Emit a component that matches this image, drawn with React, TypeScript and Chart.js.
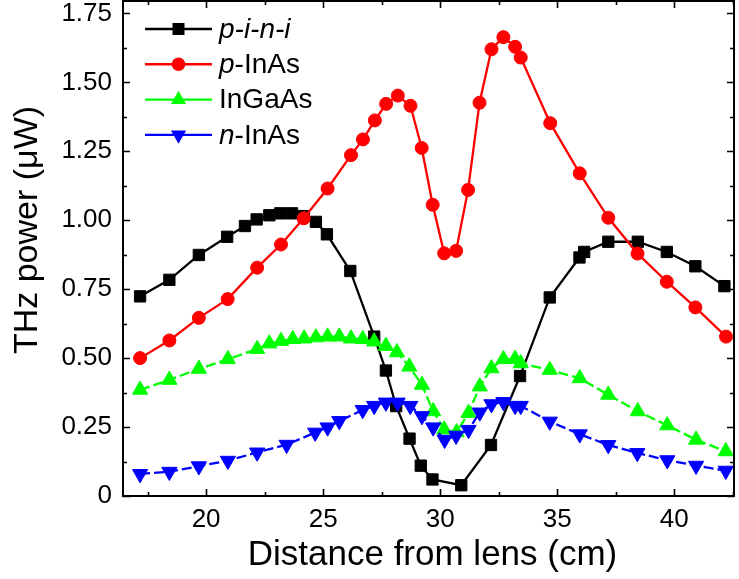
import React, { useEffect, useRef } from 'react';
import { Chart, registerables } from 'chart.js';

Chart.register(...registerables);

// ---------- data ----------
const piniX = [17.18, 18.43, 19.69, 20.9, 21.66, 22.16, 22.7, 23.17, 23.67, 24.17, 24.69, 25.16, 26.16, 27.18, 27.68, 28.12, 28.69, 29.17, 29.67, 30.9, 32.17, 33.41, 34.68, 35.95, 36.15, 37.18, 38.44, 39.68, 40.9, 42.14];
const piniY = [0.724, 0.784, 0.874, 0.94, 0.979, 1.003, 1.018, 1.025, 1.025, 1.015, 0.994, 0.949, 0.816, 0.578, 0.455, 0.326, 0.208, 0.11, 0.06, 0.039, 0.185, 0.435, 0.72, 0.865, 0.885, 0.922, 0.922, 0.885, 0.833, 0.761];

const pInAsX = [17.18, 18.43, 19.69, 20.92, 22.18, 23.2, 24.17, 25.19, 26.19, 26.7, 27.21, 27.69, 28.19, 28.73, 29.21, 29.68, 30.17, 30.68, 31.19, 31.68, 32.19, 32.7, 33.2, 33.44, 34.7, 35.96, 37.18, 38.43, 39.68, 40.9, 42.21];
const pInAsY = [0.5, 0.564, 0.646, 0.714, 0.828, 0.912, 1.007, 1.115, 1.236, 1.293, 1.362, 1.422, 1.452, 1.415, 1.262, 1.056, 0.88, 0.889, 1.11, 1.426, 1.62, 1.664, 1.629, 1.59, 1.352, 1.17, 1.009, 0.879, 0.777, 0.684, 0.578];

const inGaAsX = [17.18, 18.43, 19.69, 20.93, 22.18, 22.7, 23.2, 23.7, 24.19, 24.69, 25.19, 25.69, 26.19, 26.69, 27.18, 27.68, 28.15, 28.68, 29.22, 29.7, 30.17, 30.7, 31.21, 31.69, 32.19, 32.7, 33.2, 33.44, 34.68, 35.96, 37.18, 38.44, 39.7, 40.93, 42.2];
const inGaAsY = [0.385, 0.421, 0.461, 0.496, 0.533, 0.553, 0.562, 0.569, 0.571, 0.575, 0.578, 0.578, 0.571, 0.569, 0.56, 0.544, 0.521, 0.469, 0.403, 0.307, 0.241, 0.231, 0.301, 0.397, 0.463, 0.496, 0.497, 0.481, 0.457, 0.427, 0.367, 0.307, 0.256, 0.204, 0.162];

const nInAsX = [17.18, 18.43, 19.69, 20.93, 22.18, 23.44, 24.66, 25.19, 25.69, 26.69, 27.18, 27.68, 28.18, 28.72, 29.22, 29.7, 30.19, 30.68, 31.21, 31.69, 32.19, 32.7, 33.2, 33.44, 34.68, 35.96, 37.18, 38.42, 39.7, 40.93, 42.2];
const nInAsY = [0.08, 0.088, 0.108, 0.128, 0.158, 0.186, 0.23, 0.249, 0.272, 0.312, 0.327, 0.339, 0.339, 0.327, 0.29, 0.249, 0.204, 0.219, 0.24, 0.303, 0.333, 0.341, 0.327, 0.327, 0.27, 0.224, 0.185, 0.156, 0.13, 0.11, 0.092];

const xTickValues = [20, 25, 30, 35, 40];
const xTickLabels = ['20', '25', '30', '35', '40'];
const yTickValues = [0, 0.25, 0.5, 0.75, 1.0, 1.25, 1.5, 1.75];
const yTickLabels = ['0', '0.25', '0.50', '0.75', '1.00', '1.25', '1.50', '1.75'];

const xTitle = 'Distance from lens (cm)';
const yTitle = 'THz power (\u03BCW)';

// legend text segments: [text, italic]
const legendItems: { segs: [string, boolean][]; color: string; marker: string }[] = [
  { segs: [['p-i-n-i', true]], color: '#000000', marker: 'square' },
  { segs: [['p', true], ['-InAs', false]], color: '#ff0000', marker: 'circle' },
  { segs: [['InGaAs', false]], color: '#00ff00', marker: 'up' },
  { segs: [['n', true], ['-InAs', false]], color: '#0000ff', marker: 'down' },
];

const FONT = '"Liberation Sans", Arial, sans-serif';

function pts(xs: number[], ys: number[]) {
  return xs.map((x, i) => ({ x, y: ys[i] }));
}

function labelFor(values: number[], labels: string[], v: number) {
  const i = values.findIndex((t) => Math.abs(t - v) < 1e-6);
  return i >= 0 ? labels[i] : '';
}

function drawMarker(ctx: CanvasRenderingContext2D, kind: string, x: number, y: number, color: string) {
  ctx.fillStyle = color;
  ctx.beginPath();
  if (kind === 'square') {
    const s = 6;
    ctx.rect(x - s, y - s, 2 * s, 2 * s);
  } else if (kind === 'circle') {
    ctx.arc(x, y, 6.8, 0, Math.PI * 2);
  } else if (kind === 'up') {
    const r = 8.8;
    ctx.moveTo(x, y - r);
    ctx.lineTo(x + r * 0.866, y + r / 2);
    ctx.lineTo(x - r * 0.866, y + r / 2);
    ctx.closePath();
  } else {
    const r = 8.8;
    ctx.moveTo(x, y + r);
    ctx.lineTo(x + r * 0.866, y - r / 2);
    ctx.lineTo(x - r * 0.866, y - r / 2);
    ctx.closePath();
  }
  ctx.fill();
}

const framePlugin = {
  id: 'frame',
  afterDatasetsDraw(chart: any) {
    const { ctx, chartArea, scales } = chart;
    const { left, right, top, bottom } = chartArea;
    ctx.save();
    ctx.strokeStyle = '#000';
    ctx.lineWidth = 2;
    ctx.strokeRect(left, top, right - left, bottom - top);
    ctx.lineWidth = 1.6;
    ctx.beginPath();
    scales.x.ticks.forEach((t: any) => {
      const px = Math.round(scales.x.getPixelForValue(t.value)) + 0.5;
      const major = labelFor(xTickValues, xTickLabels, t.value) !== '';
      const len = major ? 7 : 4;
      ctx.moveTo(px, bottom);
      ctx.lineTo(px, bottom - len);
      ctx.moveTo(px, top);
      ctx.lineTo(px, top + len);
    });
    scales.y.ticks.forEach((t: any) => {
      const py = Math.round(scales.y.getPixelForValue(t.value)) + 0.5;
      const major = labelFor(yTickValues, yTickLabels, t.value) !== '';
      const len = major ? 7 : 4;
      ctx.moveTo(left, py);
      ctx.lineTo(left + len, py);
      ctx.moveTo(right, py);
      ctx.lineTo(right - len, py);
    });
    ctx.stroke();

    // legend
    const rowY0 = top + 28;
    const rowH = 35.3;
    legendItems.forEach((item, i) => {
      const y = rowY0 + i * rowH;
      ctx.strokeStyle = item.color;
      ctx.lineWidth = 2.4;
      ctx.setLineDash([]);
      ctx.beginPath();
      ctx.moveTo(left + 22, y);
      ctx.lineTo(left + 89, y);
      ctx.stroke();
      drawMarker(ctx, item.marker, left + 55.5, y, item.color);
      let tx = left + 96;
      ctx.fillStyle = '#000';
      ctx.textBaseline = 'middle';
      ctx.textAlign = 'left';
      item.segs.forEach(([txt, it]) => {
        ctx.font = `${it ? 'italic ' : ''}28px ${FONT}`;
        ctx.fillText(txt, tx, y + 1);
        tx += ctx.measureText(txt).width;
      });
    });

    // axis titles
    ctx.fillStyle = '#000';
    ctx.font = `35px ${FONT}`;
    ctx.textAlign = 'center';
    ctx.textBaseline = 'alphabetic';
    ctx.fillText(xTitle, (left + right) / 2 + 4, 565);
    ctx.save();
    ctx.font = `34px ${FONT}`;
    ctx.translate(37, 230);
    ctx.rotate(-Math.PI / 2);
    ctx.fillText(yTitle, 0, 0);
    ctx.restore();
    ctx.restore();
  },
};

export default function App() {
  const ref = useRef<HTMLCanvasElement | null>(null);
  useEffect(() => {
    if (!ref.current) return;
    const tickFont = { family: FONT, size: 26 };
    const common = { borderWidth: 2.3, tension: 0, pointBorderWidth: 1 };
    const chart = new Chart(ref.current, {
      type: 'line',
      data: {
        datasets: [
          { ...common, label: 'n-InAs', data: pts(nInAsX, nInAsY), borderColor: '#0000ff', backgroundColor: '#0000ff', pointStyle: 'triangle', pointRotation: 180, pointRadius: 8.8, borderDash: [10, 4] },
          { ...common, label: 'InGaAs', data: pts(inGaAsX, inGaAsY), borderColor: '#00ff00', backgroundColor: '#00ff00', pointStyle: 'triangle', pointRadius: 8.8, borderDash: [10, 4] },
          { ...common, label: 'p-InAs', data: pts(pInAsX, pInAsY), borderColor: '#ff0000', backgroundColor: '#ff0000', pointStyle: 'circle', pointRadius: 6.5 },
          { ...common, label: 'p-i-n-i', data: pts(piniX, piniY), borderColor: '#000000', backgroundColor: '#000000', pointStyle: 'rect', pointRadius: 8 },
        ] as any,
      },
      options: {
        animation: false,
        responsive: false,
        devicePixelRatio: 1,
        layout: { autoPadding: false, padding: { left: 0, right: 5, top: 1, bottom: 0 } },
        plugins: { legend: { display: false }, tooltip: { enabled: false } },
        scales: {
          x: {
            type: 'linear',
            min: 16.45,
            max: 42.55,
            grid: { display: false, drawTicks: false },
            border: { display: false },
            afterFit: (s: any) => {
              s.height = 83;
              s.paddingLeft = 0;
              s.paddingRight = 0;
            },
            ticks: {
              stepSize: 2.5,
              includeBounds: false,
              autoSkip: false,
              maxRotation: 0,
              minRotation: 0,
              padding: 8,
              color: '#000',
              font: tickFont,
              callback: (v: any) => labelFor(xTickValues, xTickLabels, Number(v)),
            },
          },
          y: {
            type: 'linear',
            min: 0,
            max: 1.795,
            grid: { display: false, drawTicks: false },
            border: { display: false },
            afterFit: (s: any) => {
              s.width = 123;
              s.paddingTop = 0;
              s.paddingBottom = 0;
            },
            ticks: {
              stepSize: 0.125,
              includeBounds: false,
              autoSkip: false,
              padding: 11,
              color: '#000',
              font: tickFont,
              callback: (v: any) => labelFor(yTickValues, yTickLabels, Number(v)),
            },
          },
        },
      } as any,
      plugins: [framePlugin],
    });
    return () => chart.destroy();
  }, []);
  return (
    <div style={{ position: 'fixed', left: 0, top: 0, width: 739, height: 579, background: '#fff' }}>
      <canvas ref={ref} width={739} height={579} style={{ display: 'block' }} />
    </div>
  );
}
